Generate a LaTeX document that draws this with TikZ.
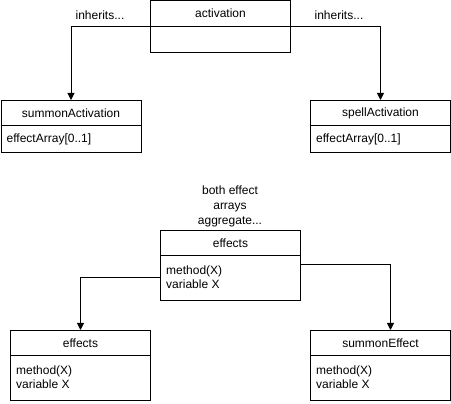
\documentclass[tikz,border=0pt]{standalone}
\usepackage{fontspec}
\setmainfont{Liberation Sans}
\usetikzlibrary{arrows.meta,calc}
\tikzset{
  classbox/.style={draw, line width=1pt, minimum width=140pt, inner sep=0pt, anchor=north west},
  title/.style={font=\fontsize{12}{14}\selectfont, inner sep=0pt},
  field/.style={font=\fontsize{12}{14}\selectfont, inner sep=0pt, anchor=west, align=left},
  lbl/.style={font=\fontsize{12}{15.3}\selectfont, inner sep=0pt, align=center},
  arr/.style={line width=1pt, -{Triangle[width=7pt,length=7pt]}},
}
\begin{document}
\begin{tikzpicture}[x=1pt,y=-1pt]
\useasboundingbox (0,0) rectangle (451,404);
% activation
\node[classbox, minimum height=52pt] (act) at (150,0.5) {};
\draw[line width=1pt] ($(act.north west)+(0,26)$) -- ($(act.north east)+(0,26)$);
\node[title] (actT) at ($(act.north)+(0,13)$) {activation};
% summonActivation
\node[classbox, minimum height=52pt] (sumA) at (0.5,100) {};
\draw[line width=1pt] ($(sumA.north west)+(0,26)$) -- ($(sumA.north east)+(0,26)$);
\node[title] (sumAT) at ($(sumA.north)+(0,13)$) {summonActivation};
\node[field] (sumAF) at ($(sumA.north west)+(6,39)$) {effectArray[0..1]};
% spellActivation
\node[classbox, minimum height=52pt] (spA) at (310,100) {};
\draw[line width=1pt] ($(spA.north west)+(0,26)$) -- ($(spA.north east)+(0,26)$);
\node[title] (spAT) at ($(spA.north)+(0,13)$) {spellActivation};
\node[field] (spAF) at ($(spA.north west)+(6,39)$) {effectArray[0..1]};
% labels
\node[title] (inhL) at (100,15) {inherits...};
\node[title] (inhR) at (339,15) {inherits...};
\node[lbl] (agg) at (230,206.5) {both effect\\arrays\\aggregate...};
% effects (top)
\node[classbox, minimum height=70pt] (eff) at (160,230) {};
\draw[line width=1pt] ($(eff.north west)+(0,26)$) -- ($(eff.north east)+(0,26)$);
\node[title] (effT) at ($(eff.north)+(0,13)$) {effects};
\node[field] (effF) at ($(eff.north west)+(6,47)$) {method(X)\\variable X};
% effects (bottom left)
\node[classbox, minimum height=70pt] (effL) at (10,330) {};
\draw[line width=1pt] ($(effL.north west)+(0,26)$) -- ($(effL.north east)+(0,26)$);
\node[title] (effLT) at ($(effL.north)+(0,13)$) {effects};
\node[field] (effLF) at ($(effL.north west)+(6,47)$) {method(X)\\variable X};
% summonEffect
\node[classbox, minimum height=70pt] (sumE) at (310,330) {};
\draw[line width=1pt] ($(sumE.north west)+(0,26)$) -- ($(sumE.north east)+(0,26)$);
\node[title] (sumET) at ($(sumE.north)+(0,13)$) {summonEffect};
\node[field] (sumEF) at ($(sumE.north west)+(6,47)$) {method(X)\\variable X};
% connectors
\draw[arr] ($(act.north west)+(0,26)$) -| (sumA.north);
\draw[arr] ($(act.north east)+(0,26)$) -| (spA.north);
\coordinate (effLout) at ($(eff.north west)+(0,48)$);
\coordinate (effRout) at ($(eff.north east)+(0,35)$);
\coordinate (sumEin) at ($(sumE.north)+(10,0)$);
\draw[arr] (effLout) -| (effL.north);
\draw[arr] (effRout) -| (sumEin);
\end{tikzpicture}
\end{document}
